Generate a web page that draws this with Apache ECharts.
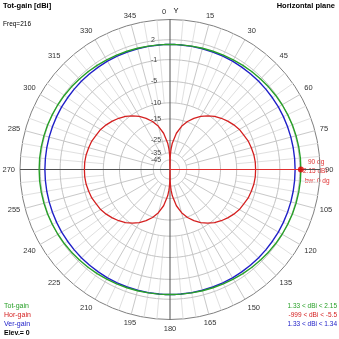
<!DOCTYPE html>
<html><head><meta charset="utf-8">
<script src="https://cdn.jsdelivr.net/npm/echarts@6/dist/echarts.min.js"></script>
<style>html,body{margin:0;padding:0;background:#fff}#c{width:339px;height:339px}</style>
</head><body><div id="c"></div>
<script>
// ---- data ----
const angleDeg = [
  0,1,2,3,5,10,15,20,25,30,35,40,45,50,55,60,65,70,75,80,85,90,
  95,100,105,110,115,120,125,130,135,140,145,150,155,160,165,170,175,177,178,179,180,
  181,182,183,185,190,195,200,205,210,215,220,225,230,235,240,245,250,255,260,265,270,
  275,280,285,290,295,300,305,310,315,320,325,330,335,340,345,350,355,357,358,359,360];
const horGain = [
  -999,-40.7,-34.6,-31.1,-26.7,-20.7,-17.2,-14.8,-13.0,-11.5,-10.3,-9.3,-8.5,-7.8,-7.2,-6.7,-6.4,-6.0,-5.8,-5.6,-5.5,-5.5,
  -5.5,-5.6,-5.8,-6.0,-6.4,-6.7,-7.2,-7.8,-8.5,-9.3,-10.3,-11.5,-13.0,-14.8,-17.2,-20.7,-26.7,-31.1,-34.6,-40.7,-999,
  -40.7,-34.6,-31.1,-26.7,-20.7,-17.2,-14.8,-13.0,-11.5,-10.3,-9.3,-8.5,-7.8,-7.2,-6.7,-6.4,-6.0,-5.8,-5.6,-5.5,-5.5,
  -5.5,-5.6,-5.8,-6.0,-6.4,-6.7,-7.2,-7.8,-8.5,-9.3,-10.3,-11.5,-13.0,-14.8,-17.2,-20.7,-26.7,-31.1,-34.6,-40.7,-999];
const totGain = [
  1.33,1.33,1.33,1.33,1.34,1.36,1.40,1.44,1.49,1.55,1.62,1.69,1.76,1.83,1.90,1.96,2.01,2.07,2.10,2.13,2.15,2.15,
  2.15,2.13,2.10,2.07,2.01,1.96,1.90,1.83,1.76,1.69,1.62,1.55,1.49,1.44,1.40,1.36,1.34,1.33,1.33,1.33,1.33,
  1.33,1.33,1.33,1.34,1.36,1.40,1.44,1.49,1.55,1.62,1.69,1.76,1.83,1.90,1.96,2.01,2.07,2.10,2.13,2.15,2.15,
  2.15,2.13,2.10,2.07,2.01,1.96,1.90,1.83,1.76,1.69,1.62,1.55,1.49,1.44,1.40,1.36,1.34,1.33,1.33,1.33,1.33];
const verGain = [
  1.33,1.33,1.33,1.33,1.33,1.33,1.33,1.33,1.33,1.33,1.33,1.33,1.33,1.33,1.33,1.34,1.34,1.34,1.34,1.34,1.34,1.34,
  1.34,1.34,1.34,1.34,1.34,1.34,1.33,1.33,1.33,1.33,1.33,1.33,1.33,1.33,1.33,1.33,1.33,1.33,1.33,1.33,1.33,
  1.33,1.33,1.33,1.33,1.33,1.33,1.33,1.33,1.33,1.33,1.33,1.33,1.33,1.33,1.34,1.34,1.34,1.34,1.34,1.34,1.34,
  1.34,1.34,1.34,1.34,1.34,1.34,1.33,1.33,1.33,1.33,1.33,1.33,1.33,1.33,1.33,1.33,1.33,1.33,1.33,1.33,1.33];
const ringDb = [2, -1, -5, -10, -15, -25, -35, -45];
const ringLabels = ['2', '-1', '-5', '-10', '-15', '-25', '-35', '-45'];
const markerAngle = 90;
const markerGain = 2.15;
const markerTexts = ['90 dg', '2.15 dBi', 'bw: 0 dg'];
const seriesNames = ['Tot-gain', 'Hor-gain', 'Ver-gain'];
const seriesRanges = ['1.33 < dBi < 2.15', '-999 < dBi < -5.5', '1.33 < dBi < 1.34'];
const titleText = 'Tot-gain [dBi]';
const freqText = 'Freq=216';
const planeText = 'Horizontal plane';
const elevText = 'Elev.= 0';

// ---- log (ARRL-like) radial scale: dB -> radius units (outer ring = 150) ----
const R_MAX = 150;
function toR(db) { return db < -90 ? 0 : 88 * Math.exp(0.0555 * (db + 5)); }

const COL = { tot: '#28a028', hor: '#d42020', ver: '#2020c8' };
const FONT = 'Liberation Sans';

const chart = echarts.init(document.getElementById('c'), null, { renderer: 'canvas' });

function lineData(vals) { return angleDeg.map((a, i) => [toR(vals[i]), a]); }

const spokeAngles = [];
for (let a = 0; a < 360; a += 5) spokeAngles.push(a);

const option = {
  animation: false,
  backgroundColor: '#fff',
  polar: { center: [170, 169.5], radius: 150 },
  radiusAxis: { type: 'value', min: 0, max: R_MAX, show: false, axisLine: { show: false }, splitLine: { show: false }, axisLabel: { show: false }, axisTick: { show: false } },
  angleAxis: {
    type: 'value', min: 0, max: 360, interval: 15, startAngle: 90, clockwise: true,
    axisLine: { lineStyle: { color: '#808080', width: 1 } },
    axisTick: { show: false },
    splitLine: { show: false },
    axisLabel: { margin: 5, color: '#333', fontSize: 7.5, fontFamily: FONT, formatter: v => (v === 0 || v === 360) ? '' : String(v) }
  },
  series: [
    { // spokes
      type: 'custom', coordinateSystem: 'polar', silent: true, z: 1,
      data: spokeAngles.map(a => [0, a]),
      renderItem: (params, api) => {
        const a = spokeAngles[params.dataIndex];
        if (a % 90 === 0) return null;
        const major = (a % 15 === 0);
        const r0 = major ? toR(-35) : toR(-10);
        const p0 = api.coord([r0, a]), p1 = api.coord([R_MAX, a]);
        return { type: 'line', shape: { x1: p0[0], y1: p0[1], x2: p1[0], y2: p1[1] }, style: { stroke: major ? '#c8c8c8' : '#e0e0e0', lineWidth: 1 } };
      }
    },
    { // rings and labels
      type: 'custom', coordinateSystem: 'polar', silent: true, z: 2,
      data: ringDb.map(d => [toR(d), 0]),
      renderItem: (params, api) => {
        const i = params.dataIndex;
        const r = toR(ringDb[i]);
        const pts = [];
        for (let a = 0; a <= 360; a += 3) pts.push(api.coord([r, a]));
        const top = api.coord([r, 0]);
        return { type: 'group', children: [
          { type: 'polyline', shape: { points: pts }, style: { stroke: '#c4c4c4', fill: null, lineWidth: 1 } },
          { type: 'text', z2: 5, style: { text: ringLabels[i], x: top[0] - 19, y: top[1], fill: '#444', font: '7px "' + FONT + '"', textAlign: 'left', textVerticalAlign: 'middle' } }
        ] };
      }
    },
    { // main axes through the centre
      type: 'custom', coordinateSystem: 'polar', silent: true, z: 3,
      data: [[R_MAX, 0], [R_MAX, 270]],
      renderItem: (params, api) => {
        const a = params.dataIndex === 0 ? 0 : 270;
        const p0 = api.coord([R_MAX, a]), p1 = api.coord([R_MAX, a + 180]);
        return { type: 'line', shape: { x1: p0[0], y1: p0[1], x2: p1[0], y2: p1[1] }, style: { stroke: '#505050', lineWidth: 1 } };
      }
    },
    { name: seriesNames[1], type: 'line', coordinateSystem: 'polar', data: lineData(horGain), showSymbol: false, z: 4,
      lineStyle: { color: COL.hor, width: 1.3 } },
    { name: seriesNames[2], type: 'line', coordinateSystem: 'polar', data: lineData(verGain), showSymbol: false, z: 5,
      lineStyle: { color: COL.ver, width: 1.4 } },
    { name: seriesNames[0], type: 'line', coordinateSystem: 'polar', data: lineData(totGain), showSymbol: false, z: 6,
      lineStyle: { color: COL.tot, width: 1.4 } },
    { // marker line from centre
      type: 'line', coordinateSystem: 'polar', data: [[0, markerAngle], [toR(markerGain), markerAngle]], showSymbol: false, z: 7,
      lineStyle: { color: '#e03030', width: 1 } },
    { // marker dot
      type: 'scatter', coordinateSystem: 'polar', data: [[toR(markerGain), markerAngle]], symbolSize: 6, z: 8,
      itemStyle: { color: '#e00000' } }
  ],
  graphic: [
    { type: 'text', left: 3, top: 2, style: { text: titleText, font: 'bold 7.5px "' + FONT + '"', fill: '#000' } },
    { type: 'text', left: 3, top: 21, style: { text: freqText, font: '6.5px "' + FONT + '"', fill: '#000' } },
    { type: 'text', right: 4, top: 2, style: { text: planeText, font: 'bold 7.5px "' + FONT + '"', fill: '#000' } },
    { type: 'text', x: 164, y: 12, style: { text: '0', font: '7.5px "' + FONT + '"', fill: '#333', textAlign: 'center', textVerticalAlign: 'middle' } },
    { type: 'text', x: 176, y: 11, style: { text: 'Y', font: '7.5px "' + FONT + '"', fill: '#000', textAlign: 'center', textVerticalAlign: 'middle' } },
    { type: 'text', x: 4, y: 306, style: { text: seriesNames[0], font: '7px "' + FONT + '"', fill: COL.tot, textVerticalAlign: 'middle' } },
    { type: 'text', x: 4, y: 315, style: { text: seriesNames[1], font: '7px "' + FONT + '"', fill: COL.hor, textVerticalAlign: 'middle' } },
    { type: 'text', x: 4, y: 324, style: { text: seriesNames[2], font: '7px "' + FONT + '"', fill: COL.ver, textVerticalAlign: 'middle' } },
    { type: 'text', x: 4, y: 333, style: { text: elevText, font: 'bold 7px "' + FONT + '"', fill: '#000', textVerticalAlign: 'middle' } },
    { type: 'text', x: 337, y: 306, style: { text: seriesRanges[0], font: '6.5px "' + FONT + '"', fill: COL.tot, textAlign: 'right', textVerticalAlign: 'middle' } },
    { type: 'text', x: 337, y: 315, style: { text: seriesRanges[1], font: '6.5px "' + FONT + '"', fill: COL.hor, textAlign: 'right', textVerticalAlign: 'middle' } },
    { type: 'text', x: 337, y: 324, style: { text: seriesRanges[2], font: '6.5px "' + FONT + '"', fill: COL.ver, textAlign: 'right', textVerticalAlign: 'middle' } },
    { type: 'text', x: 308, y: 162, style: { text: markerTexts[0], font: '6.5px "' + FONT + '"', fill: '#e03030', textVerticalAlign: 'middle' } },
    { type: 'text', x: 303, y: 171, style: { text: markerTexts[1], font: '6.5px "' + FONT + '"', fill: '#e03030', textVerticalAlign: 'middle' } },
    { type: 'text', x: 305, y: 181, style: { text: markerTexts[2], font: '6.5px "' + FONT + '"', fill: '#e03030', textVerticalAlign: 'middle' } }
  ]
};
chart.setOption(option);
</script>
</body></html>
